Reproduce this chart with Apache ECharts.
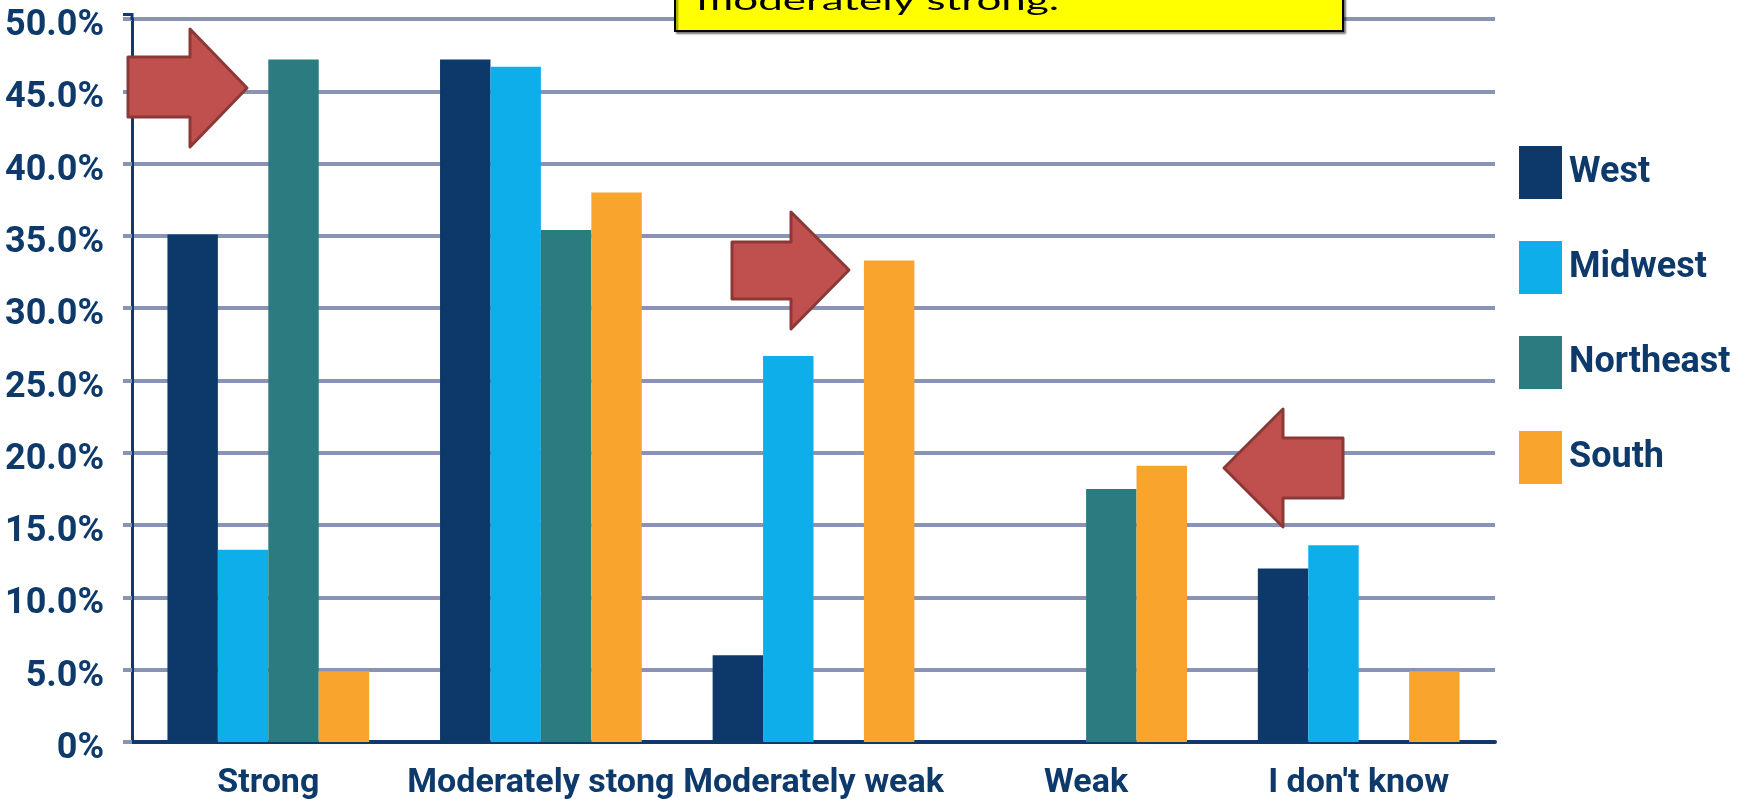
<!DOCTYPE html>
<html>
<head>
<meta charset="utf-8">
<title>Strength by region</title>
<script src="https://cdn.jsdelivr.net/npm/echarts@6/dist/echarts.min.js"></script>
<style>
  html, body { margin: 0; padding: 0; background: #fff; }
  #chart { width: 1746px; height: 805px; }
</style>
</head>
<body>
<div id="chart"></div>
<script>
// data (percent)
var categories = ['Strong', 'Moderately stong', 'Moderately weak', 'Weak', "I don't know"];
var regions = ['West', 'Midwest', 'Northeast', 'South'];
var west      = [35.1, 47.2,  6.0,  0.0, 12.0];
var midwest   = [13.3, 46.7, 26.7,  0.0, 13.6];
var northeast = [47.2, 35.4,  0.0, 17.5,  0.0];
var south     = [ 4.9, 38.0, 33.3, 19.1,  4.9];
var yTickLabels = ['0%', '5.0%', '10.0%', '15.0%', '20.0%', '25.0%', '30.0%', '35.0%', '40.0%', '45.0%', '50.0%'];

var colors = ['#0c396a', '#0eaeeb', '#2a7c81', '#f9a42c'];
var navy = '#0d3a6b';
var gridColor = '#8994b5';
var labelFont = "Roboto, 'Liberation Sans', sans-serif";

var chart = echarts.init(document.getElementById('chart'));

var seriesData = [west, midwest, northeast, south];
var series = regions.map(function (name, i) {
  return {
    name: name,
    type: 'bar',
    data: seriesData[i],
    barGap: '0%',
    barCategoryGap: '26%',
    itemStyle: { color: colors[i] }
  };
});

// red callout arrows (annotations, not data)
function arrow(points) {
  return {
    type: 'polygon',
    z: 100,
    shape: { points: points },
    style: { fill: '#c0504d', stroke: '#8c3836', lineWidth: 3, lineJoin: 'round' }
  };
}

var option = {
  animation: false,
  color: colors,
  grid: { left: 132, right: 251, top: 19, bottom: 63 },
  legend: {
    orient: 'vertical',
    left: 1519,
    top: 146,
    padding: 0,
    itemWidth: 43,
    itemHeight: 53,
    itemGap: 42,
    icon: 'rect',
    data: regions,
    textStyle: {
      fontFamily: labelFont,
      fontWeight: 'bold',
      fontSize: 36,
      color: navy,
      padding: [0, 0, 0, 2]
    }
  },
  xAxis: {
    type: 'category',
    data: categories,
    axisLine: { lineStyle: { color: navy, width: 4 } },
    axisTick: { length: 14, lineStyle: { color: navy, width: 3 } },
    axisLabel: {
      interval: 0,
      margin: 24,
      fontFamily: labelFont,
      fontWeight: 'bold',
      fontSize: 34,
      color: navy
    }
  },
  yAxis: {
    type: 'value',
    min: 0,
    max: 50,
    interval: 5,
    axisLine: { show: true, lineStyle: { color: navy, width: 3 } },
    axisTick: { show: true, length: 9, lineStyle: { color: gridColor, width: 4 } },
    splitLine: { lineStyle: { color: gridColor, width: 4 } },
    axisLabel: {
      margin: 28,
      verticalAlign: 'top',
      lineHeight: 14,
      fontFamily: labelFont,
      fontWeight: 'bold',
      fontSize: 36,
      color: navy,
      formatter: function (v) { return yTickLabels[Math.round(v / 5)]; }
    }
  },
  series: series,
  graphic: [
    // small stub of the y axis above the top gridline
    { type: 'line', z: 50, shape: { x1: 132, y1: 13, x2: 132, y2: 20 }, style: { stroke: navy, lineWidth: 3 } },
    { type: 'line', z: 50, shape: { x1: 123, y1: 14.5, x2: 133, y2: 14.5 }, style: { stroke: navy, lineWidth: 3 } },
    // yellow callout box cut by the top edge
    {
      type: 'rect',
      z: 100,
      shape: { x: 675, y: -10, width: 668, height: 41 },
      style: {
        fill: '#ffff00', stroke: '#000', lineWidth: 2,
        shadowColor: 'rgba(0,0,0,0.45)', shadowOffsetX: 2, shadowOffsetY: 2, shadowBlur: 2
      }
    },
    {
      type: 'text',
      z: 101,
      x: 697,
      y: 15,
      scaleY: 0.6,
      style: {
        text: 'moderately strong.',
        font: "44px Lato, 'Open Sans', sans-serif",
        fill: '#000',
        verticalAlign: 'bottom'
      }
    },
    arrow([[128, 57], [190, 57], [190, 29], [247, 88], [190, 147], [190, 117], [128, 117]]),
    arrow([[732, 242], [791, 242], [791, 212], [849, 270], [791, 329], [791, 299], [732, 299]]),
    arrow([[1224, 468], [1283, 409], [1283, 438], [1343, 438], [1343, 498], [1283, 498], [1283, 527]])
  ]
};

chart.setOption(option);
</script>
</body>
</html>
